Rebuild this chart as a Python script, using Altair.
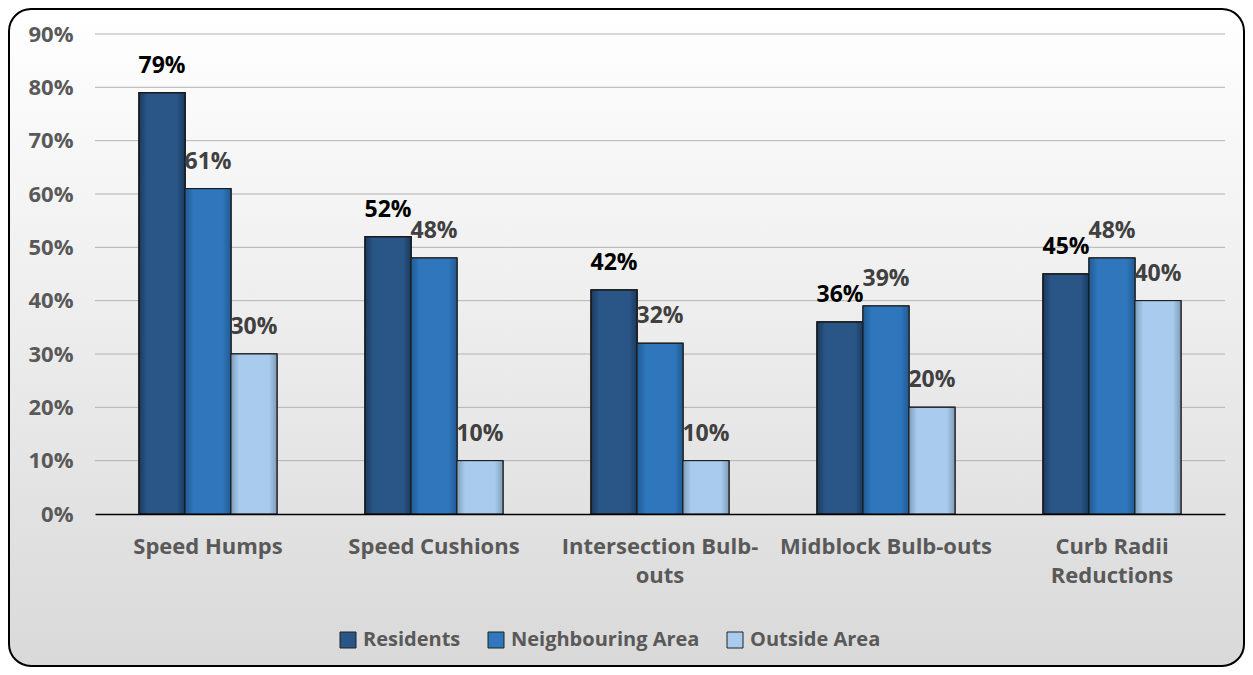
import altair as alt
import pandas as pd

categories = ["Speed Humps", "Speed Cushions", "Intersection Bulb-outs", "Midblock Bulb-outs", "Curb Radii Reductions"]
cat_labels = ["Speed Humps", "Speed Cushions", "Intersection Bulb-|outs", "Midblock Bulb-outs", "Curb Radii|Reductions"]
series = ["Residents", "Neighbouring Area", "Outside Area"]
residents = [0.79, 0.52, 0.42, 0.36, 0.45]
neighbouring = [0.61, 0.48, 0.32, 0.39, 0.48]
outside = [0.30, 0.10, 0.10, 0.20, 0.40]
colors = ["#2A5687", "#2F76BC", "#A9CCEE"]
edge_colors = ["#1A3B60", "#215A92", "#7F9DBA"]
y_ticks = [0, 0.1, 0.2, 0.3, 0.4, 0.5, 0.6, 0.7, 0.8, 0.9]

rows = []
for vals, s in zip([residents, neighbouring, outside], series):
    for c, lab, v in zip(categories, cat_labels, vals):
        rows.append({"category": lab, "series": s, "value": v})
df = pd.DataFrame(rows)
grid_df = pd.DataFrame({"value": y_ticks[1:]})

FONT = "Open Sans"
FS = 22
GRAY = "#595959"
W, H = 1130, 480

bg = alt.Chart(alt.Data(values=[{}])).mark_rect(
    color={"gradient": "linear", "x1": 0, "y1": 0, "x2": 0, "y2": 1,
           "stops": [{"offset": 0, "color": "#ffffff"}, {"offset": 1, "color": "#d9d9d9"}]},
    stroke="black", strokeWidth=2, cornerRadius=22
).encode(x=alt.value(-86), x2=alt.value(W + 19), y=alt.value(-25), y2=alt.value(H + 152))

y_scale = alt.Scale(domain=[0, 0.9], nice=False)
y_axis = alt.Axis(values=y_ticks, format=".0%", labelFont=FONT, labelFontSize=FS,
                  labelFontWeight="bold", labelColor=GRAY, labelPadding=22,
                  ticks=False, domain=False, grid=False, zindex=1)

grid = alt.Chart(grid_df).mark_rule(color="#b3b3b3", strokeWidth=1).encode(
    y=alt.Y("value:Q", scale=y_scale, axis=y_axis, title=None),
    x=alt.value(0), x2=alt.value(W),
)

x_enc = alt.X("category:N", sort=cat_labels, title=None,
              scale=alt.Scale(paddingInner=0.39, paddingOuter=0.195),
              axis=alt.Axis(labelExpr="split(datum.label, '|')", labelAngle=0,
                            labelFont=FONT, labelFontSize=FS, labelFontWeight="bold",
                            labelColor=GRAY, labelPadding=22, labelLineHeight=29,
                            ticks=False, domainColor="black", domainWidth=1.5,
                            labelLimit=300, zindex=1))
y_enc = alt.Y("value:Q", title=None, scale=y_scale, axis=y_axis)
xo = alt.XOffset("series:N", sort=series, scale=alt.Scale(paddingInner=0, paddingOuter=0))

bars = alt.Chart(df).mark_bar(stroke="#1a1a1a", strokeWidth=1.5).encode(
    x=x_enc, y=y_enc, xOffset=xo,
    color=alt.Color("series:N", sort=series, title=None,
                    scale=alt.Scale(domain=series, range=colors),
                    legend=alt.Legend(orient="none", legendX=243, legendY=596, direction="horizontal",
                                      symbolType="square", symbolSize=256, symbolStrokeColor="#222",
                                      symbolStrokeWidth=1, labelLimit=300,
                                      labelFont=FONT, labelFontSize=20, labelFontWeight="bold",
                                      labelColor=GRAY, columnPadding=25, labelOffset=5)),
)

shade_layers = []
for s, c, e in zip(series, colors, edge_colors):
    grad = {"gradient": "linear", "x1": 0, "y1": 0, "x2": 1, "y2": 0,
            "stops": [{"offset": 0, "color": e}, {"offset": 0.18, "color": c},
                      {"offset": 0.82, "color": c}, {"offset": 1, "color": e}]}
    shade_layers.append(
        alt.Chart(df).transform_filter(alt.datum.series == s).mark_bar(
            color=grad, stroke="#1a1a1a", strokeWidth=1.5 if s == "Residents" else 1.0
        ).encode(x=alt.X("category:N", sort=cat_labels), y="value:Q", xOffset=xo)
    )

labels = alt.Chart(df).mark_text(font=FONT, fontSize=23, fontWeight="bold", baseline="middle", dy=-27).encode(
    x=alt.X("category:N", sort=cat_labels), y="value:Q", xOffset=xo,
    text=alt.Text("value:Q", format=".0%"),
    color=alt.condition("datum.series == 'Residents'", alt.value("black"), alt.value("#404040")),
)

chart = alt.layer(bg, grid, bars, *shade_layers, labels).properties(
    width=W, height=H,
    autosize=alt.AutoSizeParams(type="none"),
    padding={"left": 87, "top": 26, "right": 20, "bottom": 153},
).configure_view(stroke=None).configure(background="white")

chart.save("out.html", embed_options={"renderer": "svg", "actions": False})
